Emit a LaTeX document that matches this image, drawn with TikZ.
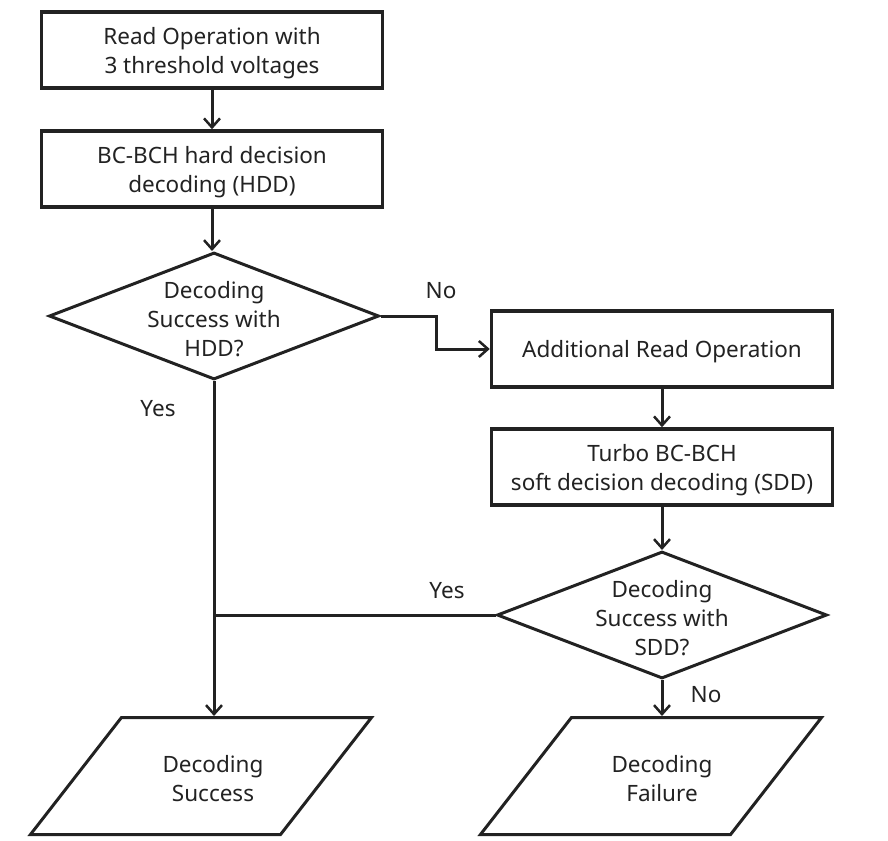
\documentclass[tikz,border=0pt]{standalone}
\usepackage{fontspec}
\setmainfont{Noto Sans}
\usetikzlibrary{shapes.geometric,arrows.meta}
\definecolor{ink}{HTML}{222222}
\begin{document}
\begin{tikzpicture}[x=1pt,y=-1pt,
  every node/.style={text=ink,font=\fontsize{22.5}{29}\selectfont},
  procbox/.style={draw=ink,line width=3.5pt,minimum width=341pt,minimum height=76pt,inner sep=0pt},
  dia/.style={draw=ink,line width=3pt,shape=diamond,minimum width=330pt,minimum height=127pt,inner sep=0pt},
  txt/.style={align=center,inner sep=0pt,yshift=-3pt},
  para/.style={draw=ink,line width=3pt,shape=trapezium,trapezium left angle=54,trapezium right angle=126,trapezium stretches=true,minimum width=342pt,minimum height=117pt,inner sep=0pt},
  arr/.style={draw=ink,line width=3pt,-{Straight Barb[length=9pt,width=16pt,line width=2.5pt]}},
  lnk/.style={draw=ink,line width=3pt},
  lbl/.style={inner sep=0pt}]
\useasboundingbox (0,0) rectangle (888,840);
\node[procbox] (b1) at (212,50) {};
\node[txt] (b1t) at (b1.center) {Read Operation with\\3 threshold voltages};
\node[procbox] (b2) at (212,169) {};
\node[txt] (b2t) at (b2.center) {BC-BCH hard decision\\decoding (HDD)};
\node[dia] (d1) at (214,316) {};
\node[txt] (d1t) at (d1.center) {Decoding\\Success with\\HDD?};
\node[procbox] (b3) at (662,349) {};
\node[txt] (b3t) at (b3.center) {Additional Read Operation};
\node[procbox] (b4) at (662,467) {};
\node[txt] (b4t) at (b4.center) {Turbo BC-BCH\\soft decision decoding (SDD)};
\node[dia] (d2) at (662,615) {};
\node[txt] (d2t) at (d2.center) {Decoding\\Success with\\SDD?};
\node[para] (p1) at (201,776) {\phantom{M}};
\node[txt] (p1t) at (213,776) {Decoding\\Success};
\node[para] (p2) at (651,776) {\phantom{M}};
\node[txt] (p2t) at (662,776) {Decoding\\Failure};
\coordinate (nobend) at (436,316);
\draw[arr] (b1) -- (b2);
\draw[arr] (b2.south) -- (b2.south |- d1.north);
\draw[arr] (d1.east) -- (nobend) |- (b3.west);
\draw[arr] (b3.south) -- (b3.south |- b4.north);
\draw[arr] (b4.south) -- (b4.south |- d2.north);
\draw[arr] (d1.south) -- (d1.south |- p1.north);
\draw[lnk] (d2.west) -- (d2.west -| d1.south);
\draw[arr] (d2.south) -- (d2.south |- p2.north);
\node[lbl] (no1) at (441,291) {No};
\node[lbl] (yes1) at (158,409) {Yes};
\node[lbl] (yes2) at (447,591) {Yes};
\node[lbl] (no2) at (706,695) {No};
\end{tikzpicture}
\end{document}
